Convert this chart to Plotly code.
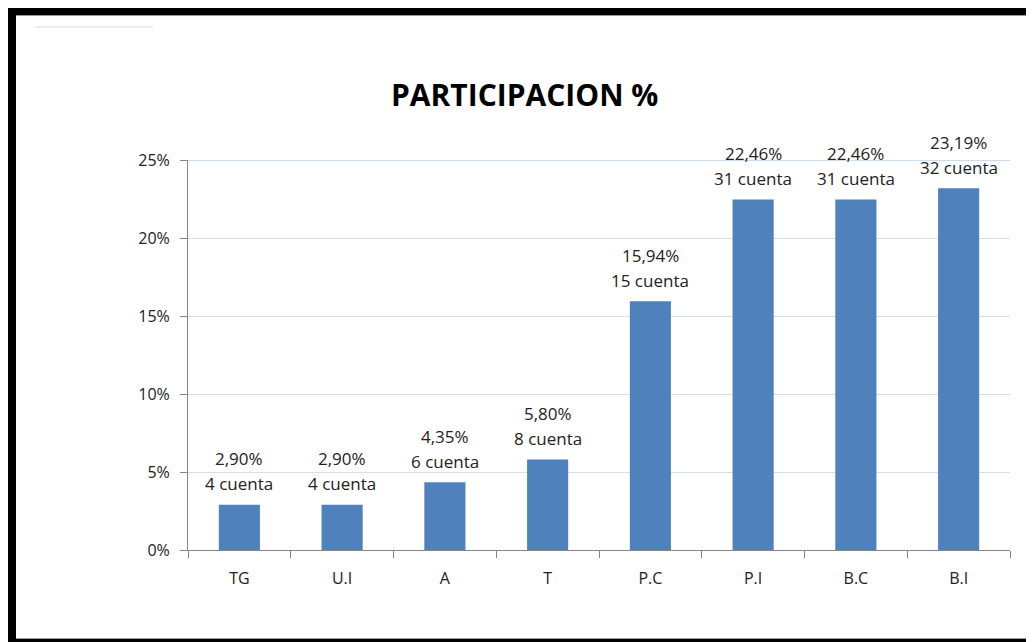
import plotly.graph_objects as go

categories = ["TG", "U.I", "A", "T", "P.C", "P.I", "B.C", "B.I"]
percent = [2.90, 2.90, 4.35, 5.80, 15.94, 22.46, 22.46, 23.19]
counts = [4, 4, 6, 8, 15, 31, 31, 32]
pct_labels = ["2,90%", "2,90%", "4,35%", "5,80%", "15,94%", "22,46%", "22,46%", "23,19%"]
y_ticks = [0, 5, 10, 15, 20, 25]
y_tick_labels = ["0%", "5%", "10%", "15%", "20%", "25%"]

OFF = 8  # page body margin
W, H = 1034 - OFF, 642 - OFF
L, R, T, B = 188 - OFF, 24, 160 - OFF, 642 - 550
PW, PH = W - L - R, H - T - B


def px(x):
    return (x - OFF - L) / PW


def py(y):
    return (H - B - (y - OFF)) / PH


FONT = "Open Sans"
fig = go.Figure()
fig.add_trace(go.Bar(
    x=categories, y=percent,
    marker=dict(color="#4f81bd", line=dict(width=0)),
    hoverinfo="x+y",
))

for c, v, p, n in zip(categories, percent, pct_labels, counts):
    fig.add_annotation(x=c, y=v, text=f"{n} cuenta", showarrow=False,
                       yanchor="middle", yshift=21,
                       font=dict(family=FONT, size=17, color="#222222"))
    fig.add_annotation(x=c, y=v, text=p, showarrow=False,
                       yanchor="middle", yshift=46,
                       font=dict(family=FONT, size=17, color="#222222"))

fig.add_annotation(xref="paper", yref="paper", x=px(524), y=py(95),
                   text="<b>PARTICIPACION %</b>", showarrow=False,
                   xanchor="center", yanchor="middle",
                   font=dict(family=FONT, size=30, color="#000000"))

shapes = [
    # black frame
    dict(type="rect", xref="paper", yref="paper", x0=px(8), x1=px(1040), y0=py(15), y1=py(5),
         fillcolor="#000000", line=dict(width=0), layer="above"),
    dict(type="rect", xref="paper", yref="paper", x0=px(8), x1=px(16), y0=py(645), y1=py(5),
         fillcolor="#000000", line=dict(width=0), layer="above"),
    dict(type="rect", xref="paper", yref="paper", x0=px(8), x1=px(1040), y0=py(645), y1=py(639),
         fillcolor="#000000", line=dict(width=0), layer="above"),
    dict(type="line", xref="paper", yref="paper", x0=px(16), x1=px(1040), y0=py(638.5), y1=py(638.5),
         line=dict(color="#9a9a9a", width=1)),
    dict(type="line", xref="paper", yref="paper", x0=px(16), x1=px(1040), y0=py(15.5), y1=py(15.5),
         line=dict(color="#9a9a9a", width=1)),
    dict(type="line", xref="paper", yref="paper", x0=px(35), x1=px(153), y0=py(27), y1=py(27),
         line=dict(color="#dddddd", width=1)),
    # darker top gridline
    dict(type="line", xref="paper", yref="y", x0=0, x1=1, y0=25, y1=25,
         line=dict(color="#9db5dc", width=1)),
]

fig.update_layout(
    width=W, height=H,
    margin=dict(l=L, r=R, t=T, b=B),
    paper_bgcolor="white", plot_bgcolor="white",
    showlegend=False,
    bargap=0.6,
    shapes=shapes,
    font=dict(family=FONT, size=16, color="#222222"),
    xaxis=dict(
        type="category", tickson="boundaries", ticks="outside", ticklen=7,
        tickcolor="#868686", showline=True, linecolor="#868686", linewidth=1,
        showgrid=False, ticklabelstandoff=14,
        tickfont=dict(family=FONT, size=16, color="#222222"),
    ),
    yaxis=dict(
        range=[0, 25], tickvals=y_ticks, ticktext=y_tick_labels,
        ticks="outside", ticklen=7, tickcolor="#868686",
        showline=True, linecolor="#868686", linewidth=1,
        gridcolor="#d3deef", gridwidth=1, zeroline=False,
        tickfont=dict(family=FONT, size=16, color="#222222"),
        ticklabelstandoff=7,
    ),
)

fig.write_html("out.html")
